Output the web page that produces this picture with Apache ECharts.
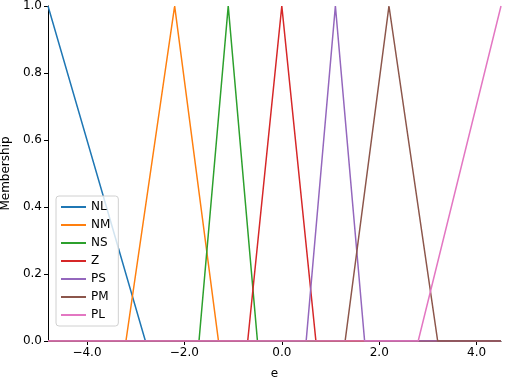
<!DOCTYPE html>
<html><head><meta charset="utf-8">
<script src="https://cdn.jsdelivr.net/npm/echarts@6/dist/echarts.min.js"></script>
<style>html,body{margin:0;padding:0;background:#fff}#c{width:505px;height:379px}</style>
</head><body><div id="c"></div>
<script>
const universe = [-4.8, 4.5];
const setNames = ['NL','NM','NS','Z','PS','PM','PL'];
const NL = [-4.8, -4.8, -2.8];
const NM = [-3.2, -2.2, -1.3];
const NS = [-1.7, -1.1, -0.5];
const Z  = [-0.7, 0.0, 0.7];
const PS = [0.5, 1.1, 1.7];
const PM = [1.3, 2.2, 3.2];
const PL = [2.8, 4.5, 4.5];
const xTicks = [-4, -2, 0, 2, 4];
const yTicks = [0, 0.2, 0.4, 0.6, 0.8, 1.0];
const colors = ['#1f77b4','#ff7f0e','#2ca02c','#d62728','#9467bd','#8c564b','#e377c2'];
const params = [NL, NM, NS, Z, PS, PM, PL];

function tri(p){
  const [a,b,c] = p;
  const pts = [];
  if (a > universe[0]) pts.push([universe[0], 0]);
  if (a < b) pts.push([a, 0]);
  pts.push([b, 1]);
  if (c > b) pts.push([c, 0]);
  if (c < universe[1]) pts.push([universe[1], 0]);
  return pts;
}
const fmt = v => (v < 0 ? '\u2212' : '') + Math.abs(v).toFixed(1);
const font = 'DejaVu Sans';
const chart = echarts.init(document.getElementById('c'), null, {renderer:'canvas'});
chart.setOption({
  animation: false,
  textStyle: {fontFamily: font},
  grid: {left: 48, right: 4, top: 6, bottom: 38, containLabel: false, outerBoundsMode: 'none'},
  legend: {
    orient: 'vertical', left: 56, top: 196,
    data: setNames, icon: 'rect', itemWidth: 25, itemHeight: 2, itemGap: 6,
    textStyle: {fontFamily: font, fontSize: 12, color: '#000'},
    backgroundColor: 'rgba(255,255,255,0.8)', borderColor: '#d0d0d0', borderWidth: 1,
    borderRadius: 3, padding: [5, 8, 5, 5]
  },
  xAxis: {
    type: 'value', min: universe[0], max: universe[1],
    name: 'e', nameLocation: 'middle', nameGap: 27,
    nameTextStyle: {fontFamily: font, fontSize: 12, color: '#000'},
    axisLine: {onZero: false, lineStyle: {color: '#000', width: 1}},
    axisTick: {show: true, length: 4, customValues: xTicks, lineStyle: {color: '#000'}},
    axisLabel: {customValues: xTicks, formatter: fmt, color: '#000', fontSize: 12, fontFamily: font, margin: 6},
    splitLine: {show: false}
  },
  yAxis: {
    type: 'value', min: 0, max: 1, interval: 0.2,
    name: 'Membership', nameLocation: 'middle', nameGap: 32, nameRotate: 90,
    nameTextStyle: {fontFamily: font, fontSize: 12, color: '#000'},
    axisLine: {show: true, onZero: false, lineStyle: {color: '#000', width: 1}},
    axisTick: {show: true, length: 4, customValues: yTicks, lineStyle: {color: '#000'}},
    axisLabel: {customValues: yTicks, formatter: v => v.toFixed(1), color: '#000', fontSize: 12, fontFamily: font, margin: 6},
    splitLine: {show: false}
  },
  series: setNames.map((n, i) => ({
    name: n, type: 'line', data: tri(params[i]), symbol: 'none',
    lineStyle: {width: 1.5, color: colors[i]}, itemStyle: {color: colors[i]}
  }))
});
</script></body></html>
